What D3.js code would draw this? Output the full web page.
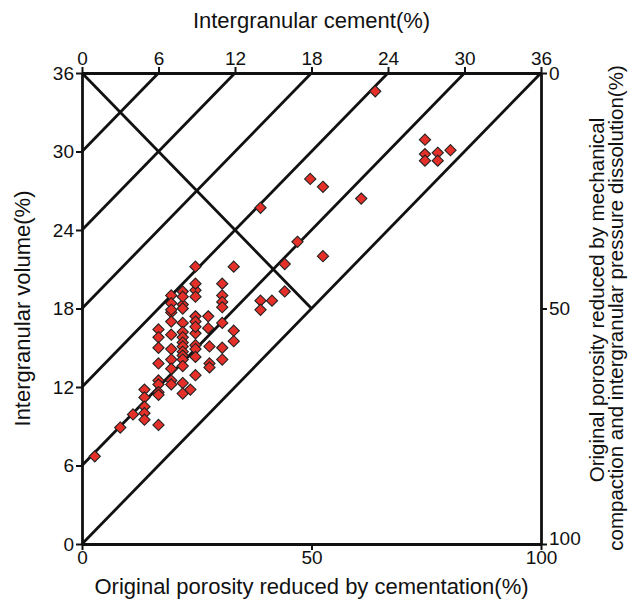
<!DOCTYPE html>
<html>
<head>
<meta charset="utf-8">
<script src="https://cdn.jsdelivr.net/npm/d3@7"></script>
<style>
  body { margin: 0; background: #fff; }
  text { font-family: "Liberation Sans", Arial, sans-serif; fill: #111; }
</style>
</head>
<body>
<div id="chart"></div>
<script>
// chart data: intergranular cement (%) vs intergranular volume (%)
let cement = [1.0, 3.0, 4.0, 4.9, 4.9, 4.9, 4.9, 4.9, 6.0, 6.0, 6.0, 6.0, 6.0, 6.0, 6.0, 6.0, 6.0,
    7.0, 7.0, 7.0, 7.0, 7.0, 7.0, 7.0, 7.0, 7.0, 7.0, 7.0,
    7.9, 7.9, 7.9, 7.9, 7.9, 7.9, 7.9, 7.9, 7.9, 7.9, 7.9, 7.9, 7.9, 7.9, 7.9, 8.5,
    8.9, 8.9, 8.9, 8.9, 8.9, 8.9, 8.9, 8.9, 8.9, 8.9, 8.9, 8.9,
    9.9, 9.9, 10.0, 10.0, 10.0,
    11.0, 11.0, 11.0, 11.0, 11.0, 11.0, 11.0, 11.9, 11.9, 11.9,
    14.0, 14.0, 14.0, 14.9, 15.9, 15.9, 16.9, 17.9, 18.9, 18.9,
    21.9, 23.0, 26.9, 26.9, 26.9, 27.9, 27.9, 28.9];
let igv = [6.7, 8.9, 9.9, 11.8, 11.2, 10.5, 10.0, 9.5, 16.4, 15.8, 15.0, 13.8, 12.5, 12.2, 11.6, 11.4, 9.1,
    19.0, 18.4, 17.7, 17.0, 16.0, 14.9, 14.1, 13.4, 12.5, 12.2, 17.9,
    19.3, 18.3, 18.0, 16.9, 16.2, 15.8, 15.4, 15.1, 14.7, 14.4, 14.1, 13.6, 12.3, 11.5, 18.9, 11.8,
    21.2, 19.4, 18.9, 17.4, 17.0, 16.1, 15.2, 14.9, 14.3, 12.9, 19.9, 16.6,
    17.4, 16.5, 15.1, 13.8, 13.5,
    19.9, 19.0, 18.5, 18.1, 15.0, 14.1, 16.9, 21.2, 16.3, 15.5,
    25.7, 18.6, 17.9, 18.6, 21.4, 19.3, 23.1, 27.9, 27.3, 22.0,
    26.4, 34.6, 30.9, 29.8, 29.3, 29.9, 29.3, 30.1];

// guide lines: IGV = cement + offset, plus the perpendicular line
let diagOffsets = [0, 6, 12, 18, 24, 30];
let crossLine = [[0, 36], [18, 18]];

let topTicks = [0, 6, 12, 18, 24, 30, 36];
let leftTicks = [0, 6, 12, 18, 24, 30, 36];
let bottomTicks = [0, 50, 100];
let rightTicks = [0, 50, 100];

let svgWidth = 629;
let svgHeight = 600;
let margin = { top: 73, right: 88, bottom: 56, left: 82 };
let width = svgWidth - margin.left - margin.right;
let height = svgHeight - margin.top - margin.bottom;

var svg = d3.select("#chart")
    .append("svg")
    .attr("width", svgWidth)
    .attr("height", svgHeight);

var chartGroup = svg.append("g")
    .attr("transform", `translate(${margin.left}, ${margin.top})`);

// scales
var xScale = d3.scaleLinear().domain([0, 36]).range([0, width]);
var yScale = d3.scaleLinear().domain([0, 36]).range([height, 0]);
var xPctScale = d3.scaleLinear().domain([0, 100]).range([0, width]);
var yPctScale = d3.scaleLinear().domain([0, 100]).range([0, height]);

var line = d3.line().x(d => xScale(d[0])).y(d => yScale(d[1]));

// diagonal lines clipped to the square
diagOffsets.forEach(function(k) {
    chartGroup.append("path")
        .datum([[0, k], [36 - k, 36]])
        .attr("d", line)
        .attr("fill", "none")
        .attr("stroke", "#111")
        .attr("stroke-width", 2.8);
});

chartGroup.append("path")
    .datum(crossLine)
    .attr("d", line)
    .attr("fill", "none")
    .attr("stroke", "#111")
    .attr("stroke-width", 2.8);

// axes
function styleAxis(g) {
    g.select(".domain").attr("stroke", "#111").attr("stroke-width", 2.8);
    g.selectAll(".tick line").attr("stroke", "#111").attr("stroke-width", 2);
    g.selectAll(".tick text").attr("font-size", "19px").attr("fill", "#111")
        .attr("font-family", "'Liberation Sans', Arial, sans-serif");
}

chartGroup.append("g")
    .call(d3.axisTop(xScale).tickValues(topTicks).tickSize(6).tickSizeOuter(0).tickPadding(2))
    .call(styleAxis);

chartGroup.append("g")
    .call(d3.axisLeft(yScale).tickValues(leftTicks).tickSize(6).tickSizeOuter(0).tickPadding(2))
    .call(styleAxis);

chartGroup.append("g")
    .attr("transform", `translate(0, ${height})`)
    .call(d3.axisBottom(xPctScale).tickValues(bottomTicks).tickSize(6).tickSizeOuter(0).tickPadding(1))
    .call(styleAxis);

var rightAxis = chartGroup.append("g")
    .attr("transform", `translate(${width}, 0)`)
    .call(d3.axisRight(yPctScale).tickValues(rightTicks).tickSize(6).tickSizeOuter(0).tickPadding(2))
    .call(styleAxis);
// nudge the bottom "100" up so it clears the bottom axis label
rightAxis.selectAll(".tick text").filter(d => d === 100).attr("dy", "0.05em");

// points
var points = cement.map((c, i) => ({ c: c, v: igv[i] }));
chartGroup.selectAll(".pt")
    .data(points)
    .enter()
    .append("path")
    .attr("class", "pt")
    .attr("d", d3.symbol().type(d3.symbolDiamond2).size(80))
    .attr("transform", d => `translate(${xScale(d.c)}, ${yScale(d.v)})`)
    .attr("fill", "#e5302a")
    .attr("stroke", "#222")
    .attr("stroke-width", 1.1);

// axis titles
svg.append("text")
    .attr("x", margin.left + width / 2)
    .attr("y", 28)
    .attr("text-anchor", "middle")
    .attr("font-size", "22px")
    .text("Intergranular cement(%)");

svg.append("text")
    .attr("x", margin.left + width / 2)
    .attr("y", 594)
    .attr("text-anchor", "middle")
    .attr("font-size", "22px")
    .text("Original porosity reduced by cementation(%)");

svg.append("text")
    .attr("transform", `translate(30, ${margin.top + height / 2}) rotate(-90)`)
    .attr("text-anchor", "middle")
    .attr("font-size", "22px")
    .text("Intergranular volume(%)");

svg.append("text")
    .attr("transform", `translate(604, 300) rotate(-90)`)
    .attr("text-anchor", "middle")
    .attr("font-size", "20.5px")
    .text("Original porosity reduced by mechanical");

svg.append("text")
    .attr("transform", `translate(623, 308) rotate(-90)`)
    .attr("text-anchor", "middle")
    .attr("font-size", "20.5px")
    .text("compaction and intergranular pressure dissolution(%)");
</script>
</body>
</html>
